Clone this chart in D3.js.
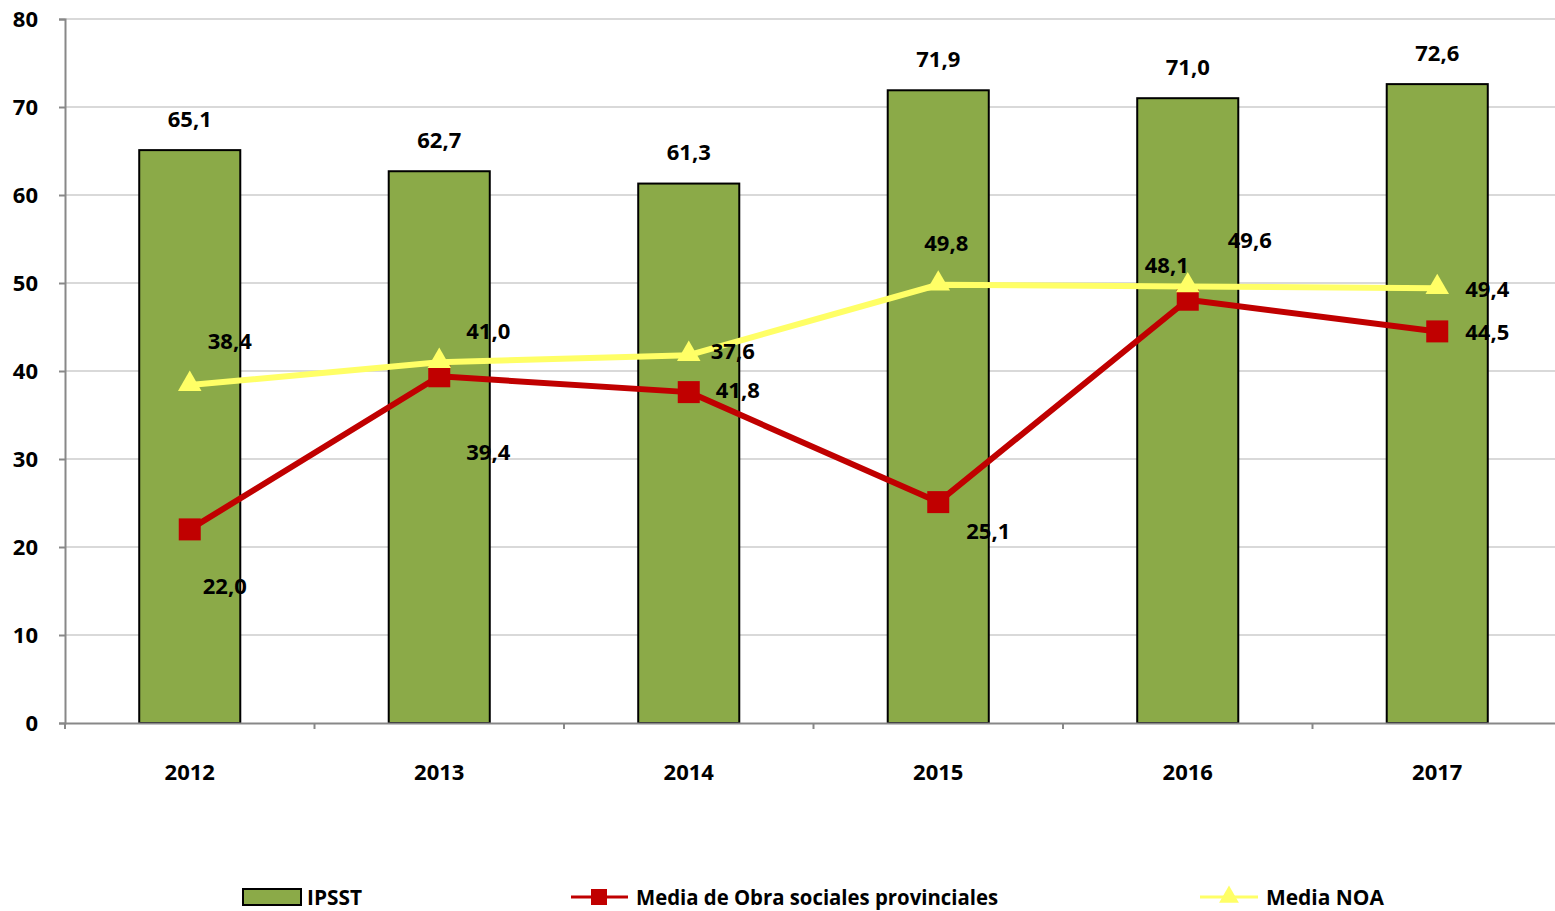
<!DOCTYPE html>
<html><head><meta charset="utf-8">
<script src="https://cdn.jsdelivr.net/npm/d3@7"></script>
<style>
html,body{margin:0;padding:0;background:#fff;}
svg text{font-family:"Open Sans","DejaVu Sans",sans-serif;font-weight:700;fill:#000;}
</style></head><body>
<svg id="c" width="1555" height="911"></svg>
<script>
const years = ["2012","2013","2014","2015","2016","2017"];
const ipsst = [65.1, 62.7, 61.3, 71.9, 71.0, 72.6];
const obraSocial = [22.0, 39.4, 37.6, 25.1, 48.1, 44.5];
const mediaNOA = [38.4, 41.0, 41.8, 49.8, 49.6, 49.4];
const yTicks = [0,10,20,30,40,50,60,70,80];
const seriesNames = ["IPSST","Media de Obra sociales provinciales","Media NOA"];
// label offsets (px) relative to each point, as placed in the original
const obraLabelOff = [[35,57],[49,76],[44,-41],[50,29],[-21,-34],[50,1]];
const noaLabelOff = [[40,-44],[49,-31],[49,35],[8,-41],[62,-46],[50,1]];

const fmt = v => v.toFixed(1).replace(".", ",");
const svg = d3.select("#c");
const L = 65, R = 1562, T = 19, B = 723;
const FS = 22;
const x = d3.scaleBand().domain(years).range([L, R]).padding(0);
const y = d3.scaleLinear().domain([0, 80]).range([B, T]);
const barW = x.bandwidth() * 0.405;
const cx = d => x(d) + x.bandwidth() / 2;

// gridlines
svg.append("g").selectAll("line").data(yTicks.filter(t => t > 0)).join("line")
  .attr("x1", L).attr("x2", R).attr("y1", d => y(d)).attr("y2", d => y(d))
  .attr("stroke", "#d9d9d9").attr("stroke-width", 2);

// y axis
const ya = svg.append("g").attr("transform", `translate(${L},0)`)
  .call(d3.axisLeft(y).tickValues(yTicks).tickSize(6).tickFormat(d3.format("d")));
ya.select(".domain").attr("stroke", "#888").attr("stroke-width", 2);
ya.selectAll(".tick line").attr("stroke", "#888").attr("stroke-width", 2);
ya.selectAll(".tick text").attr("x", -27).attr("font-size", FS).attr("font-family", null).attr("dy", "0.35em");

// bars
svg.append("g").selectAll("rect").data(years).join("rect")
  .attr("x", (d) => cx(d) - barW / 2).attr("width", barW)
  .attr("y", (d, i) => y(ipsst[i])).attr("height", (d, i) => y(0) - y(ipsst[i]))
  .attr("fill", "#8BAA48").attr("stroke", "#000").attr("stroke-width", 2);

// x axis
const xa = svg.append("g").attr("transform", `translate(0,${B})`)
  .call(d3.axisBottom(x).tickSize(0).tickFormat(d => d));
xa.select(".domain").attr("stroke", "#888").attr("stroke-width", 2);
xa.selectAll(".tick text").attr("y", 49).attr("dy", "0.35em").attr("font-size", FS).attr("font-family", null);
svg.append("g").selectAll("line").data(years.map(d => x(d)).concat([R])).join("line")
  .attr("x1", d => d).attr("x2", d => d).attr("y1", B).attr("y2", B + 6)
  .attr("stroke", "#888").attr("stroke-width", 2);

// bar labels
svg.append("g").selectAll("text").data(years).join("text")
  .attr("x", d => cx(d)).attr("y", (d, i) => y(ipsst[i]) - 31).attr("dy", "0.35em")
  .attr("text-anchor", "middle").attr("font-size", FS).text((d, i) => fmt(ipsst[i]));

const line = d3.line().x((d, i) => cx(years[i])).y(d => y(d));
// red line
svg.append("path").datum(obraSocial).attr("d", line).attr("fill", "none")
  .attr("stroke", "#C00000").attr("stroke-width", 6).attr("stroke-linejoin", "round");
svg.append("g").selectAll("rect").data(obraSocial).join("rect")
  .attr("x", (d, i) => cx(years[i]) - 11).attr("y", d => y(d) - 11)
  .attr("width", 22).attr("height", 22).attr("fill", "#C00000");
// yellow line
svg.append("path").datum(mediaNOA).attr("d", line).attr("fill", "none")
  .attr("stroke", "#FFFF66").attr("stroke-width", 6).attr("stroke-linejoin", "round");
const tri = d3.symbol().type(d3.symbolTriangle).size(240);
svg.append("g").selectAll("path").data(mediaNOA).join("path")
  .attr("d", tri).attr("transform", (d, i) => `translate(${cx(years[i])},${y(d) - 1})`)
  .attr("fill", "#FFFF66");

// line labels
svg.append("g").selectAll("text").data(obraSocial).join("text")
  .attr("x", (d, i) => cx(years[i]) + obraLabelOff[i][0])
  .attr("y", (d, i) => y(d) + obraLabelOff[i][1]).attr("dy", "0.35em")
  .attr("text-anchor", "middle").attr("font-size", FS).text(d => fmt(d));
svg.append("g").selectAll("text").data(mediaNOA).join("text")
  .attr("x", (d, i) => cx(years[i]) + noaLabelOff[i][0])
  .attr("y", (d, i) => y(d) + noaLabelOff[i][1]).attr("dy", "0.35em")
  .attr("text-anchor", "middle").attr("font-size", FS).text(d => fmt(d));

// legend
const lg = svg.append("g");
const ly = 897;
lg.append("rect").attr("x", 243).attr("y", ly - 8).attr("width", 58).attr("height", 16)
  .attr("fill", "#8BAA48").attr("stroke", "#000").attr("stroke-width", 2);
lg.append("text").attr("x", 307).attr("y", ly).attr("dy", "0.35em").attr("font-size", FS)
  .attr("textLength", 55).attr("lengthAdjust", "spacingAndGlyphs").text(seriesNames[0]);
lg.append("line").attr("x1", 571).attr("x2", 628).attr("y1", ly).attr("y2", ly)
  .attr("stroke", "#C00000").attr("stroke-width", 3);
lg.append("rect").attr("x", 591).attr("y", ly - 8).attr("width", 16).attr("height", 16).attr("fill", "#C00000");
lg.append("text").attr("x", 636).attr("y", ly).attr("dy", "0.35em").attr("font-size", FS)
  .attr("textLength", 362).attr("lengthAdjust", "spacingAndGlyphs").text(seriesNames[1]);
lg.append("line").attr("x1", 1200).attr("x2", 1258).attr("y1", ly).attr("y2", ly)
  .attr("stroke", "#FFFF66").attr("stroke-width", 3);
lg.append("path").attr("d", d3.symbol().type(d3.symbolTriangle).size(170))
  .attr("transform", `translate(1229,${ly})`).attr("fill", "#FFFF66");
lg.append("text").attr("x", 1266).attr("y", ly).attr("dy", "0.35em").attr("font-size", FS)
  .attr("textLength", 118).attr("lengthAdjust", "spacingAndGlyphs").text(seriesNames[2]);
</script>
</body></html>
